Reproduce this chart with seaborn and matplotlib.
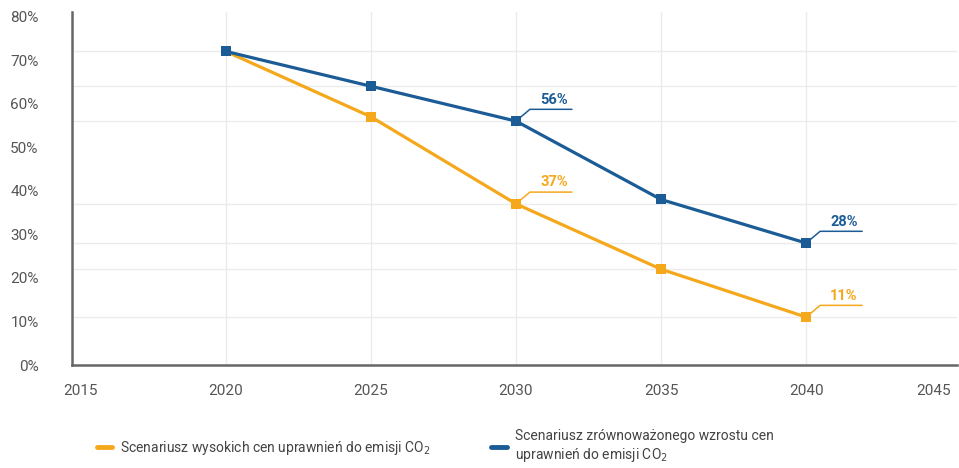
import pandas as pd
import matplotlib.pyplot as plt
import seaborn as sns
from matplotlib.lines import Line2D

# ------------------------------------------
# Data
# ------------------------------------------
years = [2020, 2025, 2030, 2035, 2040]
high_prices = [72, 57, 37, 22, 11]
balanced_growth = [72, 64, 56, 38, 28]

# faint horizontal reference lines seen in the chart
ref_lines = [72, 64, 56, 37, 28, 22, 11]

label_high = "Scenariusz wysokich cen uprawnień do emisji CO$_2$"
label_bal = "Scenariusz zrównoważonego wzrostu cen\nuprawnień do emisji CO$_2$"

# values with a callout label: (year, value, series)
callouts = [(2030, 56, "bal"), (2040, 28, "bal"), (2030, 37, "high"), (2040, 11, "high")]

yellow = "#F5A81C"
blue = "#1B5C96"
colors = {"high": yellow, "bal": blue}

df = pd.DataFrame({
    "Rok": years * 2,
    "Udział": high_prices + balanced_growth,
    "Scenariusz": ["high"] * len(years) + ["bal"] * len(years),
})

# ------------------------------------------
# Plot
# ------------------------------------------
sns.set_style("white")
plt.rcParams["font.family"] = ["Roboto", "DejaVu Sans"]

fig = plt.figure(figsize=(9.59, 4.68), dpi=100)
ax = fig.add_axes([0.075, 0.22, 0.923, 0.754])

for v in ref_lines:
    ax.axhline(v, color="#ebebeb", lw=1, zorder=0)
for yr in years:
    ax.axvline(yr, color="#ebebeb", lw=1, zorder=0)

sns.lineplot(data=df, x="Rok", y="Udział", hue="Scenariusz",
             palette=colors, hue_order=["high", "bal"],
             marker="s", markersize=7.5, markeredgewidth=0,
             linewidth=2.3, legend=False, ax=ax, zorder=3)

# callouts with leader lines
for yr, val, key in callouts:
    c = colors[key]
    dx, dy, w = 0.48, 2.7, 1.45
    ax.plot([yr, yr + dx, yr + dx + w], [val, val + dy, val + dy],
            color=c, lw=1.1, zorder=2)
    ax.text(yr + dx + w / 2 + 0.1, val + dy + 0.6, f"{val}%", color=c,
            fontsize=10.5, fontweight="bold", ha="center", va="bottom")

ax.set_xlim(2014.7, 2045.2)
ax.set_ylim(0, 81)
ax.set_xticks(range(2015, 2050, 5))
ax.set_yticks(range(0, 90, 10))
ax.set_yticklabels([f"{v}%" for v in range(0, 90, 10)])
ax.set_xlabel("")
ax.set_ylabel("")
ax.tick_params(axis="y", length=0, pad=24, labelsize=11, labelcolor="#555555")
ax.tick_params(axis="x", length=0, pad=14, labelsize=11, labelcolor="#555555")
ax.get_xticklabels()[-1].set_horizontalalignment("right")

for s in ["top", "right"]:
    ax.spines[s].set_visible(False)
for s in ["left", "bottom"]:
    ax.spines[s].set_color("#666666")
    ax.spines[s].set_linewidth(1.8)

handles = [Line2D([], [], color=yellow, lw=3.5), Line2D([], [], color=blue, lw=3.5)]
fig.legend(handles, [label_high, label_bal], loc="upper left",
           bbox_to_anchor=(0.095, 0.095), ncol=2, frameon=False,
           fontsize=10, handlelength=1.1, handletextpad=0.6,
           columnspacing=4.35, labelcolor="#444444", borderaxespad=0)

plt.savefig("out.png", dpi=100)
